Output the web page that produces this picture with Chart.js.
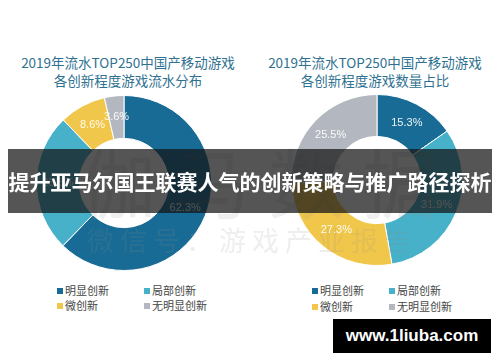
<!DOCTYPE html>
<html>
<head>
<meta charset="utf-8">
<script src="https://cdn.jsdelivr.net/npm/chart.js@4/dist/chart.umd.min.js"></script>
<style>
  html, body { margin:0; padding:0; background:#fff; }
  body { width:500px; height:362px; position:relative; overflow:hidden; font-family:"Noto Sans CJK SC","Noto Sans",sans-serif; }
  .abs { position:absolute; }
  .title { color:#2f7190; font-size:13.5px; line-height:18px; text-align:center; width:250px; top:53px; white-space:nowrap; }
  .legend { font-size:11px; color:#454545; line-height:15px; }
  .legend .item { position:absolute; white-space:nowrap; }
  .legend .sw { display:inline-block; width:6px; height:6px; margin-right:2px; vertical-align:1px; }
  .wm1 { font-size:76px; color:rgba(140,140,140,0.14); letter-spacing:18px; top:135px; left:80px; white-space:nowrap; line-height:90px; }
  .wm2 { font-size:27px; color:rgba(140,140,140,0.15); letter-spacing:6px; top:224px; left:87px; white-space:nowrap; line-height:32px; }
  .banner { left:8px; top:149px; width:484px; height:64px; background:rgba(20,20,20,0.72); color:#fff; font-weight:bold; font-size:21px; line-height:64px; text-align:center; white-space:nowrap; overflow:hidden; }
  .badge { left:333px; top:319px; width:158px; height:34px; background:#000; color:#fff; font-family:"Liberation Sans",Arial,sans-serif; font-weight:bold; font-size:17px; line-height:34px; text-align:center; }
</style>
</head>
<body>
<div class="abs title" style="left:3px;">2019年流水TOP250中国产移动游戏<br>各创新程度游戏流水分布</div>
<div class="abs title" style="left:250px;">2019年流水TOP250中国产移动游戏<br>各创新程度游戏数量占比</div>

<div class="abs" style="left:36px;top:95px;width:176px;height:176px;"><canvas id="c1"></canvas></div>
<div class="abs" style="left:291px;top:94px;width:172px;height:172px;"><canvas id="c2"></canvas></div>

<div class="abs legend" id="lg1" style="left:0;top:0;"></div>
<div class="abs legend" id="lg2" style="left:0;top:0;"></div>

<div class="abs wm1">伽马数据</div>
<div class="abs wm2">微信号：游戏产业报告</div>

<div class="abs banner">提升亚马尔国王联赛人气的创新策略与推广路径探析</div>
<div class="abs badge">www.1liuba.com</div>

<script>
const categories = ['明显创新', '局部创新', '微创新', '无明显创新'];
const revenueShare = [62.3, 25.5, 8.6, 3.6];
const countShare = [15.3, 31.9, 27.3, 25.5];
const colors = ['#186b95', '#46b1c9', '#f1c74b', '#b3b7bf'];

const labelPlugin = {
  id: 'sliceLabels',
  afterDatasetsDraw(chart) {
    const ctx = chart.ctx;
    const meta = chart.getDatasetMeta(0);
    const data = chart.data.datasets[0].data;
    ctx.save();
    ctx.font = '11px "Liberation Sans", "Noto Sans", sans-serif';
    ctx.fillStyle = 'rgba(255,255,255,0.92)';
    ctx.textAlign = 'center';
    ctx.textBaseline = 'middle';
    meta.data.forEach((arc, i) => {
      const p = arc.tooltipPosition();
      ctx.fillText(data[i].toFixed(1) + '%', p.x, p.y);
    });
    ctx.restore();
  }
};

function makeChart(id, values) {
  return new Chart(document.getElementById(id), {
    type: 'doughnut',
    data: {
      labels: categories,
      datasets: [{ data: values, backgroundColor: colors, borderColor: '#ffffff', borderWidth: 1 }]
    },
    options: {
      responsive: true,
      maintainAspectRatio: false,
      animation: false,
      cutout: '51%',
      layout: { padding: 0 },
      plugins: { legend: { display: false }, tooltip: { enabled: false } }
    },
    plugins: [labelPlugin]
  });
}
makeChart('c1', revenueShare);
makeChart('c2', countShare);

function buildLegend(id, positions) {
  const el = document.getElementById(id);
  categories.forEach((c, i) => {
    const d = document.createElement('div');
    d.className = 'item';
    d.style.left = positions[i][0] + 'px';
    d.style.top = positions[i][1] + 'px';
    d.innerHTML = '<span class="sw" style="background:' + colors[i] + '"></span>' + c;
    el.appendChild(d);
  });
}
buildLegend('lg1', [[57, 283], [144, 283], [57, 298], [144, 298]]);
buildLegend('lg2', [[312, 283], [389, 283], [312, 299], [389, 299]]);
</script>
</body>
</html>
